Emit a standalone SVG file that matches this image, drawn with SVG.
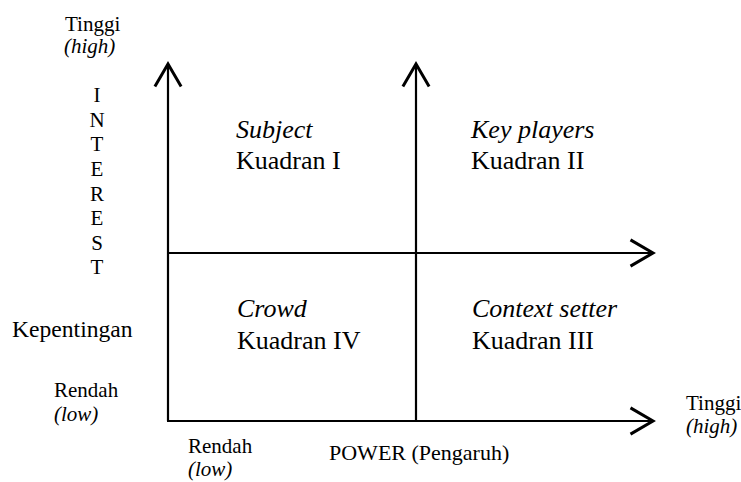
<svg xmlns="http://www.w3.org/2000/svg" width="741" height="482" viewBox="0 0 741 482">
<defs>
<style>
text{font-family:"Liberation Serif","Times New Roman",serif;fill:#000}
.q{font-size:26px}
.l{font-size:21px}
.i{font-style:italic}
.ax{stroke:#000;stroke-width:2.2;fill:none}
</style>
<marker id="arr" markerUnits="userSpaceOnUse" markerWidth="30" markerHeight="30" viewBox="-20 -12 24 24" refX="0" refY="0" orient="auto">
<path d="M-18,-10.5 L0,0 L-18,10.5" fill="none" stroke="#000" stroke-width="2.4"/>
</marker>
</defs>
<rect width="741" height="482" fill="#fff"/>
<g id="connectors">
<line class="ax" x1="168" y1="421" x2="168" y2="64" marker-end="url(#arr)"/>
<line class="ax" x1="416" y1="421" x2="416" y2="64" marker-end="url(#arr)"/>
<line class="ax" x1="167" y1="253" x2="653" y2="253" marker-end="url(#arr)"/>
<line class="ax" x1="167" y1="421" x2="653" y2="421" marker-end="url(#arr)"/>
</g>
<g id="y-axis-label">
<text class="l" x="65" y="31">Tinggi</text>
<text class="l i" x="64" y="53">(high)</text>
<text class="l" x="97" y="102" text-anchor="middle">I</text>
<text class="l" x="97" y="127" text-anchor="middle">N</text>
<text class="l" x="97" y="151" text-anchor="middle">T</text>
<text class="l" x="97" y="176" text-anchor="middle">E</text>
<text class="l" x="97" y="201" text-anchor="middle">R</text>
<text class="l" x="97" y="225" text-anchor="middle">E</text>
<text class="l" x="97" y="250" text-anchor="middle">S</text>
<text class="l" x="97" y="274" text-anchor="middle">T</text>
<text style="font-size:23.6px" x="12" y="337">Kepentingan</text>
<text class="l" x="54" y="397">Rendah</text>
<text class="l i" x="54" y="421">(low)</text>
</g>
<g id="x-axis-label">
<text class="l" x="188" y="453">Rendah</text>
<text class="l i" x="188" y="476">(low)</text>
<text style="font-size:22px" x="329" y="460">POWER (Pengaruh)</text>
<text class="l" x="686" y="410">Tinggi</text>
<text class="l i" x="686" y="433">(high)</text>
</g>
<g id="quadrant-1">
<text class="q i" x="236" y="138">Subject</text>
<text class="q" x="236" y="169">Kuadran I</text>
</g>
<g id="quadrant-2">
<text class="q i" x="471" y="138">Key players</text>
<text class="q" x="471" y="169">Kuadran II</text>
</g>
<g id="quadrant-4">
<text class="q i" x="237" y="317">Crowd</text>
<text class="q" x="237" y="349">Kuadran IV</text>
</g>
<g id="quadrant-3">
<text class="q i" x="472" y="317">Context setter</text>
<text class="q" x="472" y="349">Kuadran III</text>
</g>
</svg>
